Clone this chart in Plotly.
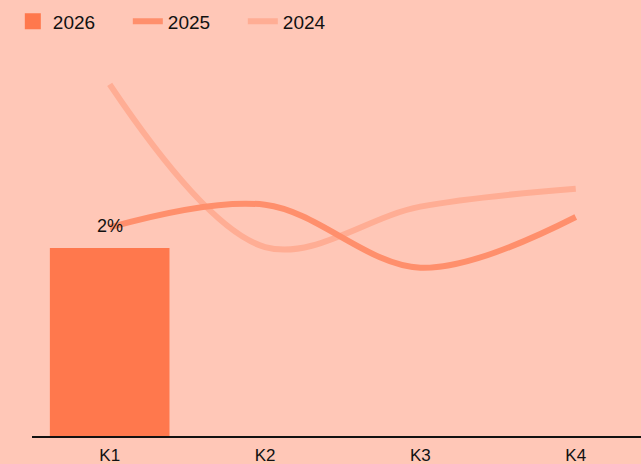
import plotly.graph_objects as go

categories = ["K1", "K2", "K3", "K4"]
bar_2026 = [2.0, None, None, None]
bar_labels = ["2%"]
line_2025 = [2.22, 2.46, 1.79, 2.33]
line_2024 = [3.74, 2.01, 2.44, 2.63]

BG = "rgb(255,199,183)"
C2026 = "rgb(255,120,77)"
C2025 = "rgb(255,143,108)"
C2024 = "rgb(255,173,148)"

fig = go.Figure()
fig.add_trace(go.Bar(
    x=categories, y=bar_2026, name="2026", marker=dict(color=C2026, line=dict(width=0)),
    width=0.77, showlegend=False,
))
fig.add_trace(go.Scatter(
    x=[None], y=[None], mode="markers", name="2026", legendrank=1,
    marker=dict(symbol="square", size=16, color=C2026),
))
fig.add_trace(go.Scatter(
    x=categories, y=line_2024, name="2024", mode="lines", legendrank=3,
    line=dict(color=C2024, width=6, shape="spline", smoothing=1),
))
fig.add_trace(go.Scatter(
    x=categories, y=line_2025, name="2025", mode="lines", legendrank=2,
    line=dict(color=C2025, width=6, shape="spline", smoothing=1),
))

fig.add_annotation(
    x=categories[0], y=bar_2026[0], text=bar_labels[0], showarrow=False,
    yanchor="bottom", yshift=10, font=dict(size=18, color="#111"),
)

fig.update_layout(
    width=641, height=464,
    paper_bgcolor=BG, plot_bgcolor=BG,
    margin=dict(l=32, r=0, t=60, b=28),
    font=dict(family="Arial, Liberation Sans, sans-serif", size=16, color="#111"),
    showlegend=True,
    legend=dict(
        orientation="h", x=0.02, y=0.995, xref="container", yref="container",
        xanchor="left", yanchor="top", entrywidth=70, itemsizing="trace",
        font=dict(size=19), bgcolor="rgba(0,0,0,0)", traceorder="normal",
    ),
    xaxis=dict(
        range=[-0.5, 3.42], showgrid=False, showline=True, linecolor="#111", linewidth=2,
        ticks="", tickfont=dict(size=17), zeroline=False, ticklabelstandoff=3,
    ),
    yaxis=dict(range=[0, 4], visible=False, showgrid=False, zeroline=False),
)

fig.write_html("out.html")
